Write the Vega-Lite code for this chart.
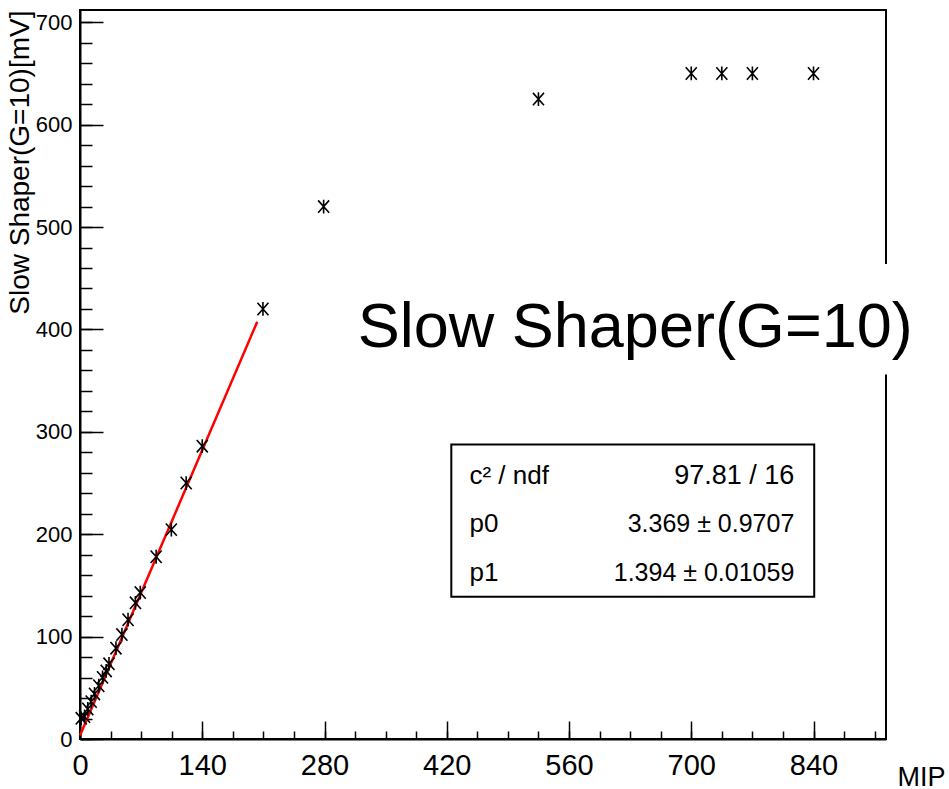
{
  "$schema": "https://vega.github.io/schema/vega-lite/v6.json",
  "width": 806,
  "height": 729,
  "autosize": {"type": "none"},
  "padding": {"left": 80, "top": 10, "right": 63, "bottom": 50},
  "background": "white",
  "config": {
    "view": {"stroke": "black", "strokeWidth": 2},
    "font": "Liberation Sans"
  },
  "resolve": {"axis": {"x": "independent", "y": "independent"}},
  "datasets": {
    "points": [
      {"mip": 840, "mv": 650},
      {"mip": 770, "mv": 650},
      {"mip": 735, "mv": 650},
      {"mip": 700, "mv": 650},
      {"mip": 525, "mv": 625},
      {"mip": 279, "mv": 520},
      {"mip": 209.5, "mv": 420},
      {"mip": 140, "mv": 286},
      {"mip": 121.6, "mv": 250},
      {"mip": 104.6, "mv": 204.5},
      {"mip": 87.2, "mv": 178},
      {"mip": 69, "mv": 143},
      {"mip": 63.5, "mv": 133},
      {"mip": 55, "mv": 116.5},
      {"mip": 48, "mv": 102},
      {"mip": 41.2, "mv": 88.7},
      {"mip": 33.2, "mv": 73.4},
      {"mip": 30, "mv": 66.5},
      {"mip": 25.8, "mv": 60.2},
      {"mip": 21.5, "mv": 52},
      {"mip": 16.6, "mv": 44},
      {"mip": 12.8, "mv": 36.5},
      {"mip": 8.9, "mv": 29.4},
      {"mip": 5.2, "mv": 22},
      {"mip": 1.4, "mv": 20.2}
    ],
    "fit": [
      {"mip": 0, "mv": 3.37},
      {"mip": 203, "mv": 407.6}
    ]
  },
  "layer": [
    {
      "data": {"name": "fit"},
      "mark": {"type": "line", "color": "#ff0000", "strokeWidth": 2.5},
      "encoding": {
        "x": {
          "field": "mip",
          "type": "quantitative",
          "scale": {"domain": [0, 923], "nice": false, "zero": false},
          "axis": {
            "orient": "bottom",
            "values": [0, 35, 70, 105, 140, 175, 210, 245, 280, 315, 350, 385, 420, 455, 490, 525, 560, 595, 630, 665, 700, 735, 770, 805, 840, 875, 910],
            "labels": false,
            "tickSize": -8,
            "tickColor": "black",
            "tickWidth": 1.5,
            "domainColor": "black",
            "domainWidth": 2,
            "grid": false,
            "title": null
          }
        },
        "y": {
          "field": "mv",
          "type": "quantitative",
          "scale": {"domain": [0, 712], "nice": false, "zero": false},
          "axis": {
            "orient": "left",
            "values": [0, 20, 40, 60, 80, 100, 120, 140, 160, 180, 200, 220, 240, 260, 280, 300, 320, 340, 360, 380, 400, 420, 440, 460, 480, 500, 520, 540, 560, 580, 600, 620, 640, 660, 680, 700],
            "labels": false,
            "tickSize": -12,
            "tickColor": "black",
            "tickWidth": 1.5,
            "domainColor": "black",
            "domainWidth": 2,
            "grid": false,
            "title": null
          }
        }
      }
    },
    {
      "data": {"name": "points"},
      "mark": {
        "type": "point",
        "shape": "M0,-1L0,1M-0.8,-0.9L0.8,0.9M-0.8,0.9L0.8,-0.9",
        "size": 190,
        "filled": false,
        "stroke": "black",
        "strokeWidth": 1.6,
        "opacity": 1
      },
      "encoding": {
        "x": {
          "field": "mip",
          "type": "quantitative",
          "axis": {
            "orient": "bottom",
            "values": [0, 140, 280, 420, 560, 700, 840],
            "tickSize": -18,
            "tickColor": "black",
            "tickWidth": 1.5,
            "domain": false,
            "grid": false,
            "labelFont": "Liberation Sans",
            "labelFontSize": 29,
            "labelColor": "black",
            "labelPadding": 30,
            "labelFlush": false,
            "labelOverlap": false,
            "title": "MIP",
            "titleFont": "Liberation Sans",
            "titleFontSize": 27,
            "titleFontWeight": "normal",
            "titleColor": "black",
            "titleX": 865,
            "titleY": 46,
            "titleAlign": "right",
            "titleBaseline": "alphabetic",
            "titleAnchor": null
          }
        },
        "y": {
          "field": "mv",
          "type": "quantitative",
          "axis": {
            "orient": "left",
            "values": [0, 100, 200, 300, 400, 500, 600, 700],
            "tickSize": -23,
            "tickColor": "black",
            "tickWidth": 1.5,
            "domain": false,
            "grid": false,
            "labelFont": "Liberation Sans",
            "labelFontSize": 22,
            "labelColor": "black",
            "labelPadding": 31,
            "labelFlush": false,
            "labelOverlap": false,
            "title": "Slow Shaper(G=10)[mV]",
            "titleFont": "Liberation Sans",
            "titleFontSize": 28,
            "titleFontWeight": "normal",
            "titleColor": "black",
            "titleAngle": -90,
            "titleX": -60,
            "titleY": 0,
            "titleAlign": "right",
            "titleBaseline": "middle",
            "titleAnchor": null
          }
        }
      }
    },
    {
      "data": {"values": [{}]},
      "mark": {"type": "rect", "fill": "white", "stroke": null, "clip": false},
      "encoding": {
        "x": {"datum": 308, "type": "quantitative", "axis": null},
        "x2": {"datum": 984},
        "y": {"datum": 356, "type": "quantitative", "axis": null},
        "y2": {"datum": 464}
      }
    },
    {
      "data": {"values": [{}]},
      "mark": {"type": "text", "text": "Slow Shaper(G=10)", "font": "Liberation Sans", "fontSize": 63, "align": "left", "baseline": "alphabetic", "color": "black"},
      "encoding": {
        "x": {"datum": 318, "type": "quantitative", "axis": null},
        "y": {"datum": 383, "type": "quantitative", "axis": null}
      }
    },
    {
      "data": {"values": [{}]},
      "mark": {"type": "rect", "fill": "white", "stroke": "black", "strokeWidth": 2},
      "encoding": {
        "x": {"datum": 425.2, "type": "quantitative", "axis": null},
        "x2": {"datum": 840.8},
        "y": {"datum": 139, "type": "quantitative", "axis": null},
        "y2": {"datum": 287.7}
      }
    },
    {
      "data": {"values": [{}]},
      "mark": {"type": "text", "text": "c² / ndf", "font": "Liberation Sans", "fontSize": 26, "align": "left", "baseline": "middle", "color": "black"},
      "encoding": {"x": {"datum": 446, "type": "quantitative", "axis": null}, "y": {"datum": 257.3, "type": "quantitative", "axis": null}}
    },
    {
      "data": {"values": [{}]},
      "mark": {"type": "text", "text": "97.81 / 16", "font": "Liberation Sans", "fontSize": 27, "align": "right", "baseline": "middle", "color": "black"},
      "encoding": {"x": {"datum": 818, "type": "quantitative", "axis": null}, "y": {"datum": 257.3, "type": "quantitative", "axis": null}}
    },
    {
      "data": {"values": [{}]},
      "mark": {"type": "text", "text": "p0", "font": "Liberation Sans", "fontSize": 26, "align": "left", "baseline": "middle", "color": "black"},
      "encoding": {"x": {"datum": 446, "type": "quantitative", "axis": null}, "y": {"datum": 210.4, "type": "quantitative", "axis": null}}
    },
    {
      "data": {"values": [{}]},
      "mark": {"type": "text", "text": "3.369 ± 0.9707", "font": "Liberation Sans", "fontSize": 25, "align": "right", "baseline": "middle", "color": "black"},
      "encoding": {"x": {"datum": 818, "type": "quantitative", "axis": null}, "y": {"datum": 210.4, "type": "quantitative", "axis": null}}
    },
    {
      "data": {"values": [{}]},
      "mark": {"type": "text", "text": "p1", "font": "Liberation Sans", "fontSize": 26, "align": "left", "baseline": "middle", "color": "black"},
      "encoding": {"x": {"datum": 446, "type": "quantitative", "axis": null}, "y": {"datum": 162.4, "type": "quantitative", "axis": null}}
    },
    {
      "data": {"values": [{}]},
      "mark": {"type": "text", "text": "1.394 ± 0.01059", "font": "Liberation Sans", "fontSize": 25, "align": "right", "baseline": "middle", "color": "black"},
      "encoding": {"x": {"datum": 818, "type": "quantitative", "axis": null}, "y": {"datum": 162.4, "type": "quantitative", "axis": null}}
    }
  ]
}
